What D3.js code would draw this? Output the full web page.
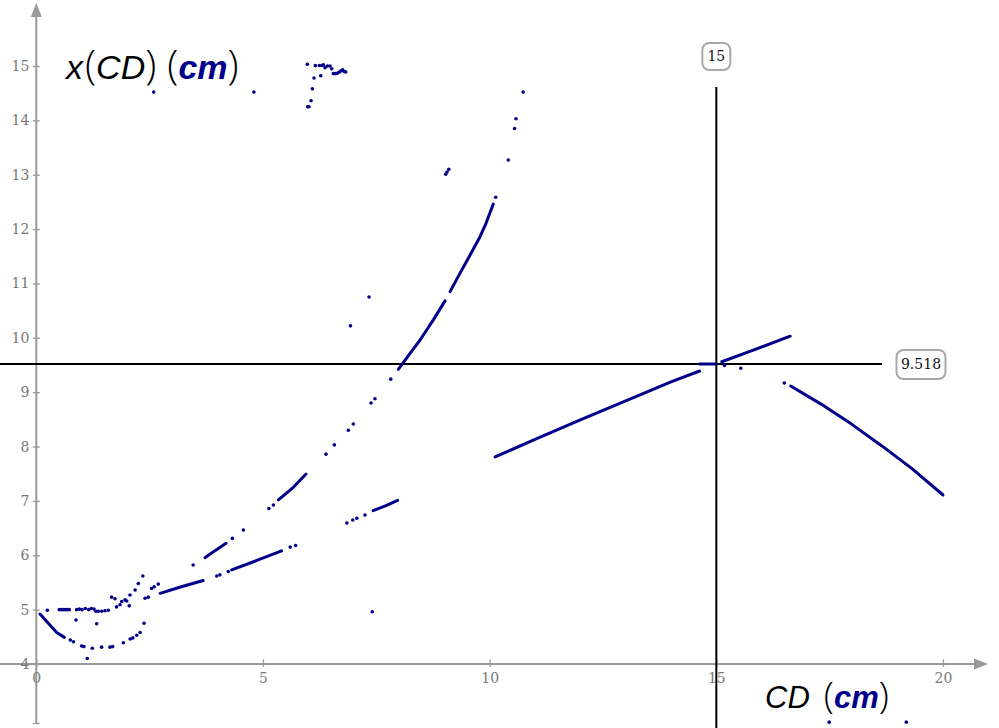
<!DOCTYPE html>
<html><head><meta charset="utf-8">
<script src="https://cdn.jsdelivr.net/npm/d3@7"></script>
<style>body{margin:0;background:#fff}svg{display:block}</style>
</head><body><svg id="c" width="999" height="728"></svg>
<script>
// ---------- data (CD in cm, x(CD) in cm) ----------
const xTicks = [0, 5, 10, 15, 20];
const yTicks = [4, 5, 6, 7, 8, 9, 10, 11, 12, 13, 14, 15];
const markerX = 15;
const markerY = 9.518;

// densely sampled stretches (drawn as a continuous run of samples)
const segArc    = [[0.082,4.92],[0.265,4.75],[0.45,4.58],[0.62,4.49]];
const segLowerA = [[2.73,5.30],[3.2,5.42],[3.68,5.535]];
const segLowerB = [[4.31,5.73],[4.85,5.90],[5.41,6.08]];
const segLowerC = [[7.43,6.82],[7.70,6.91],[7.97,7.01]];
const segUpperA = [[3.72,5.955],[3.95,6.09],[4.185,6.22]];
const segUpperB = [[5.34,7.02],[5.67,7.25],[5.95,7.495]];
const segUpperC = [[7.986,9.42],[8.244,9.716],[8.465,9.96],[8.758,10.33],[9.016,10.68]];
const segUpperD = [[9.127,10.85],[9.347,11.19],[9.508,11.43],[9.788,11.86],[9.92,12.107],[10.08,12.46]];
const segRightA = [[10.12,7.81],[11.0,8.13],[12.0,8.49],[13.0,8.84],[13.54,9.03],[14.0,9.19],[14.63,9.39]];
const segFlat   = [[14.63,9.518],[15.0,9.518]];
const segRightB = [[15.12,9.56],[15.8,9.77],[16.63,10.03]];
const segRightC = [[16.64,9.114],[17.32,8.776],[17.99,8.408],[18.66,8.007],[19.33,7.584],[20.0,7.109]];

// isolated samples
const arcPoints = [[0.75,4.44],[0.82,4.41],[1.00,4.33],[1.05,4.32],[1.235,4.29],[1.44,4.31],[1.626,4.31],
  [1.685,4.32],[1.92,4.39],[2.07,4.46],[2.13,4.48],[2.215,4.53],[2.29,4.58],[2.376,4.75],[1.125,4.10]];
const rowPoints = [[0.243,4.99],[0.507,5.0],[0.55,5.0],[0.596,5.0],[0.64,5.0],[0.684,5.0],[0.728,5.0],
  [0.89,5.0],[0.949,5.01],[1.008,5.0],[1.081,5.02],[1.156,5.0],[1.213,5.02],[1.273,5.01],[1.317,4.97],
  [1.368,4.97],[1.443,4.97],[1.516,4.98],[1.588,4.99],[1.77,5.05],[1.846,5.09],[1.957,5.18],[2.067,5.27],
  [2.18,5.36],[2.25,5.48],[2.35,5.62],[1.663,5.23],[1.736,5.20],[1.884,5.15],[1.994,5.16],[2.05,5.07],
  [0.876,4.81],[1.332,4.74]];
const lowerPoints = [[2.40,5.21],[2.47,5.23],[2.545,5.39],[2.60,5.42],[2.69,5.47],[3.98,5.62],[4.05,5.64],
  [4.235,5.70],[5.60,6.15],[5.72,6.18],[6.85,6.594],[6.98,6.65],[7.07,6.68],[7.25,6.74],[7.41,4.96]];
const upperPoints = [[3.46,5.82],[4.324,6.31],[4.567,6.465],[5.13,6.86],[5.23,6.925],[6.39,7.86],[6.574,8.03],
  [6.883,8.30],[6.993,8.415],[7.384,8.80],[7.47,8.88],[7.818,9.24],[6.93,10.22],[7.34,10.75],
  [9.03,13.01],[9.06,13.05],[9.10,13.10],[10.134,12.585],[10.41,13.27],[10.55,13.85],[10.58,14.03],[10.74,14.52]];
const topPoints = [[2.59,14.52],[4.80,14.52],[5.978,15.03],[6.155,15.006],[6.243,15.01],[6.296,15.01],
  [6.331,15.02],[6.369,14.97],[6.42,15.0],[6.479,15.0],[6.517,14.95],[6.552,14.86],[6.605,14.86],
  [6.649,14.87],[6.684,14.89],[6.722,14.91],[6.759,14.93],[6.795,14.90],[6.826,14.89],[6.126,14.78],
  [6.274,14.82],[6.089,14.58],[6.06,14.36],[6.016,14.25],[5.987,14.25]];
const rightPoints = [[15.18,9.49],[15.54,9.44],[16.50,9.17],[17.49,2.93],[19.19,2.93]];

// ---------- drawing ----------
const svg = d3.select('#c');
const x = d3.scaleLinear().domain([0, 20]).range([36.3, 943]);
const y = d3.scaleLinear().domain([4, 15]).range([664, 66]);
const AX = '#9a9a9a', TICKTXT = '#777', BLUE = '#00008b';
const serif = '"DejaVu Serif", "Liberation Serif", serif';

// axis lines + arrows
const x0 = x(0), y0 = y(4);
svg.append('line').attr('x1', 0).attr('x2', 976).attr('y1', y0).attr('y2', y0)
  .attr('stroke', AX).attr('stroke-width', 2);
svg.append('path').attr('d', `M988,${y0}L974,${y0-5.5}L974,${y0+5.5}Z`).attr('fill', AX);
svg.append('line').attr('x1', x0).attr('x2', x0).attr('y1', 724).attr('y2', 16)
  .attr('stroke', AX).attr('stroke-width', 2);
svg.append('path').attr('d', `M${x0},3L${x0-5.5},17L${x0+5.5},17Z`).attr('fill', AX);
svg.append('line').attr('x1', x0-3.5).attr('x2', x0+3.5).attr('y1', 723.5).attr('y2', 723.5)
  .attr('stroke', AX).attr('stroke-width', 1.3);

const gx = svg.append('g').attr('transform', `translate(0,${y0})`)
  .call(d3.axisBottom(x).tickValues(xTicks).tickFormat(d3.format('d')).tickSizeOuter(0));
gx.select('.domain').remove();
gx.selectAll('.tick line').attr('y1', -4.5).attr('y2', 3).attr('stroke', AX).attr('stroke-width', 1.3);
gx.selectAll('.tick text').attr('y', 9).attr('dy', '0.71em').attr('fill', TICKTXT)
  .style('font-family', serif).style('font-size', '14px');

const gy = svg.append('g').attr('transform', `translate(${x0},0)`)
  .call(d3.axisLeft(y).tickValues(yTicks).tickFormat(d3.format('d')).tickSizeOuter(0));
gy.select('.domain').remove();
gy.selectAll('.tick line').attr('x1', -3.5).attr('x2', 3.5).attr('stroke', AX).attr('stroke-width', 1.3);
gy.selectAll('.tick text').attr('x', -7).attr('dy', '0.32em').attr('fill', TICKTXT)
  .style('font-family', serif).style('font-size', '14px');

// marker lines
svg.append('line').attr('x1', x(markerX)).attr('x2', x(markerX)).attr('y1', 87).attr('y2', 728)
  .attr('stroke', '#000').attr('stroke-width', 2);
svg.append('line').attr('x1', 0).attr('x2', 882).attr('y1', y(markerY)).attr('y2', y(markerY))
  .attr('stroke', '#000').attr('stroke-width', 2);

// data
const line = d3.line().x(d => x(d[0])).y(d => y(d[1]));
[segArc, segLowerA, segLowerB, segLowerC, segUpperA, segUpperB, segUpperC, segUpperD,
 segRightA, segFlat, segRightB, segRightC].forEach(s => {
  svg.append('path').attr('d', line(s)).attr('fill', 'none').attr('stroke', BLUE)
    .attr('stroke-width', 3).attr('stroke-linecap', 'round').attr('stroke-linejoin', 'round');
});
const allPts = [].concat(arcPoints, rowPoints, lowerPoints, upperPoints, topPoints, rightPoints);
svg.append('g').selectAll('circle').data(allPts).join('circle')
  .attr('cx', d => x(d[0])).attr('cy', d => y(d[1])).attr('r', 1.8).attr('fill', BLUE);

// marker label boxes
function box(cx, cy, w, h, txt) {
  svg.append('rect').attr('x', cx - w/2).attr('y', cy - h/2).attr('width', w).attr('height', h)
    .attr('rx', 7).attr('fill', '#fff').attr('stroke', '#a8a8a8').attr('stroke-width', 2);
  svg.append('text').attr('x', cx).attr('y', cy).attr('dy', '0.35em').attr('text-anchor', 'middle')
    .style('font-family', serif).style('font-size', '14px').attr('fill', '#111').text(txt);
}
box(x(markerX), 56.5, 28, 27, String(markerX));
box(921, y(markerY) + 0.5, 49, 29, String(markerY));

// axis titles
function title(tx, ty, size, name) {
  const t = svg.append('text').attr('x', tx).attr('y', ty)
    .style('font-family', '"Liberation Sans", Arial, sans-serif').style('font-size', size + 'px');
  name.forEach(p => {
    const s = t.append('tspan').text(p.t);
    if (p.i) s.style('font-style', 'italic');
    if (p.b) s.style('font-weight', 'bold').attr('fill', BLUE);
    if (p.p) s.style('font-family', '"Open Sans", "DejaVu Sans", sans-serif').style('font-weight', '300')
      .style('font-size', (size * 1.2) + 'px');
    if (p.dx) s.attr('dx', p.dx);
  });
}
title(66, 79, 34, [{t: 'x', i: 1}, {t: '(', p: 1, dx: 2}, {t: 'CD', i: 1}, {t: ')', p: 1},
  {t: '(', p: 1, dx: 11}, {t: 'cm', i: 1, b: 1}, {t: ')', p: 1}]);
title(765, 708, 31, [{t: 'CD', i: 1}, {t: '(', p: 1, dx: 14}, {t: 'cm', i: 1, b: 1}, {t: ')', p: 1}]);
</script></body></html>
